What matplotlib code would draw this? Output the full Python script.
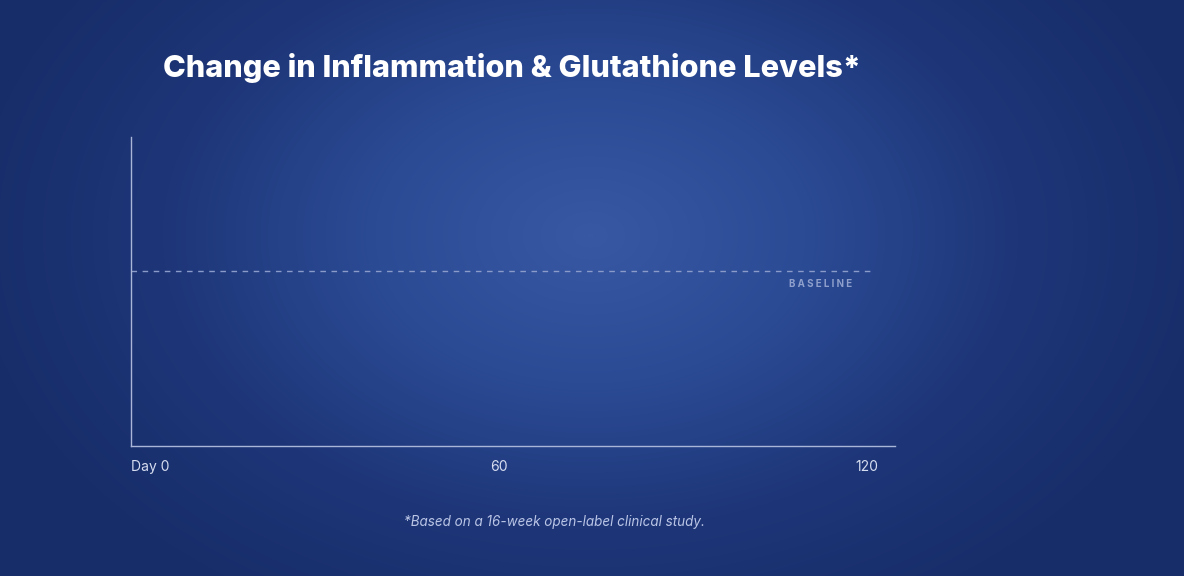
import numpy as np
import matplotlib
matplotlib.use("Agg")
import matplotlib.pyplot as plt
from matplotlib.colors import LinearSegmentedColormap

# chart content
TITLE = "Change in Inflammation & Glutathione Levels*"
FOOTNOTE = "*Based on a 16-week open-label clinical study."
tick_days = [0, 60, 120]
tick_labels = ["Day 0", "60", "120"]
baseline_value = 56.6
baseline_label = "B A S E L I N E"
x_range = (0, 124.6)
y_range = (0, 100)

FONT = "Inter"
W, H = 1184, 576

fig = plt.figure(figsize=(W / 100, H / 100), dpi=100)

# radial gradient background
bg = fig.add_axes([0, 0, 1, 1])
yy, xx = np.mgrid[0:H, 0:W]
r = np.sqrt(((xx - 590) / 640.0) ** 2 + ((yy - 235) / 440.0) ** 2)
r = np.clip(r, 0, 1)
cmap = LinearSegmentedColormap.from_list("bg", ["#3858a4", "#2b4b95", "#1e3678", "#172d69"])
bg.imshow(r, cmap=cmap, vmin=0, vmax=1, aspect="auto", extent=[0, W, H, 0])
bg.set_xlim(0, W)
bg.set_ylim(H, 0)
bg.axis("off")

# plot area: x 131..895 px, y 137..446 px
ax = fig.add_axes([131 / W, 1 - 446 / H, (895 - 131) / W, (446 - 137) / H])
ax.patch.set_alpha(0)
ax.set_xlim(*x_range)
ax.set_ylim(*y_range)
for s in ("top", "right"):
    ax.spines[s].set_visible(False)
for s in ("left", "bottom"):
    ax.spines[s].set_color("#aab6d8")
    ax.spines[s].set_linewidth(1.0)
ax.set_yticks([])
ax.set_xticks(tick_days)
ax.set_xticklabels(tick_labels, color="#d6ddf0", fontsize=10, family=FONT)
ax.tick_params(axis="x", length=0, pad=10)
ax.get_xticklabels()[0].set_ha("left")

ax.plot([0, 121], [baseline_value, baseline_value], color="#8a9bc9",
        lw=1.0, ls=(0, (4, 4)))
ax.text(117.6, baseline_value - 4.3, baseline_label, ha="right", va="center",
        fontsize=7, fontweight="bold", color="#8fa0cc", family=FONT)

fig.text(163 / W, 1 - 68 / H, TITLE, ha="left", va="center", color="white",
         fontsize=22.1, fontweight="heavy", family=FONT)
fig.text(554 / W, 1 - 522 / H, FOOTNOTE, ha="center", va="center",
         color="#bac5e6", fontsize=9.7, style="italic", family=FONT)

fig.savefig("out.png", dpi=100)
